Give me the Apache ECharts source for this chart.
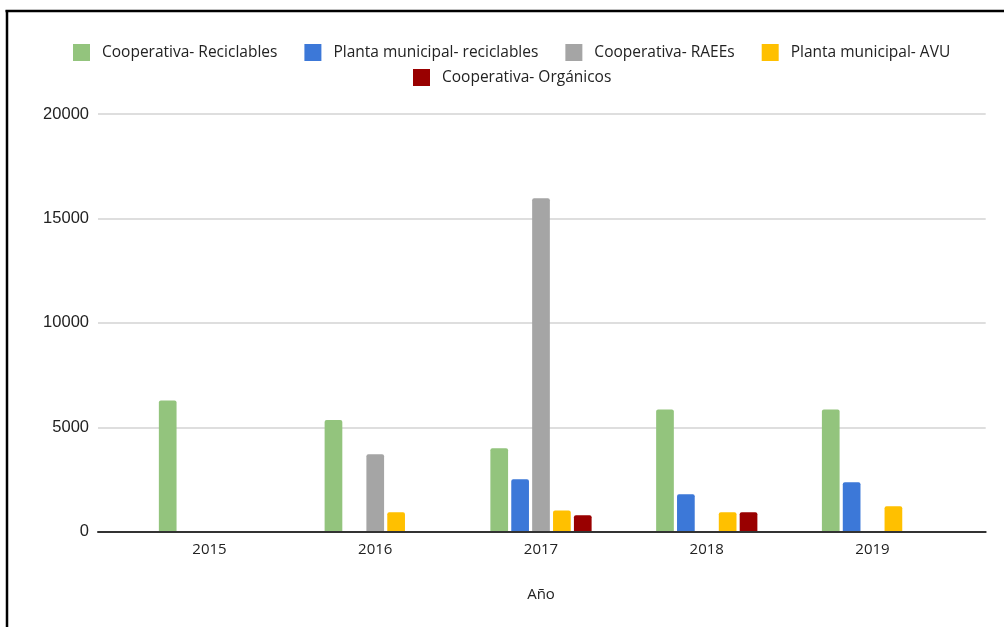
<!DOCTYPE html>
<html>
<head>
<meta charset="utf-8">
<script src="https://cdn.jsdelivr.net/npm/echarts@6/dist/echarts.min.js"></script>
<style>
  html, body { margin: 0; padding: 0; background: #ffffff; }
  #chart { width: 1004px; height: 627px; }
</style>
</head>
<body>
<div id="chart"></div>
<script>
// Years on the category axis
const years = ['2015', '2016', '2017', '2018', '2019'];

// Tonnage per stream and year (null = no data that year)
const coopReciclables = [6280, 5350, 4000, 5850, 5850];
const plantaReciclables = [null, null, 2510, 1790, 2370];
const coopRAEEs = [null, 3710, 15970, null, null];
const plantaAVU = [null, 930, 1010, 930, 1220];
const coopOrganicos = [null, null, 790, 930, null];

// Value-axis ticks
const yTicks = [0, 5000, 10000, 15000, 20000];

const seriesNames = [
  'Cooperativa- Reciclables',
  'Planta municipal- reciclables',
  'Cooperativa- RAEEs',
  'Planta municipal- AVU',
  'Cooperativa- Orgánicos'
];
const seriesData = [coopReciclables, plantaReciclables, coopRAEEs, plantaAVU, coopOrganicos];
const colors = ['#93c47d', '#3c78d8', '#a5a5a5', '#ffc000', '#990000'];

const chart = echarts.init(document.getElementById('chart'), null, { renderer: 'canvas' });

const legendText = {
  fontFamily: 'Open Sans',
  fontSize: 15.5,
  color: '#222222',
  padding: [0, 0, 0, 7]
};

const option = {
  animation: false,
  backgroundColor: '#ffffff',
  color: colors,
  legend: [
    {
      data: seriesNames.slice(0, 4),
      left: 73,
      top: 44,
      padding: 0,
      itemWidth: 17,
      itemHeight: 17,
      itemGap: 27,
      icon: 'rect',
      textStyle: legendText
    },
    {
      data: seriesNames.slice(4),
      left: 413,
      top: 69,
      padding: 0,
      itemWidth: 17,
      itemHeight: 17,
      icon: 'rect',
      textStyle: legendText
    }
  ],
  grid: [
    // frame for the value axis, gridlines and baseline
    { left: 98, right: 18.3, top: 114, bottom: 95.3, containLabel: false },
    // inner band holding the year groups
    { left: 126.6, right: 48.6, top: 114, bottom: 95.3, containLabel: false }
  ],
  xAxis: [
    {
      gridIndex: 0,
      type: 'value',
      min: 0,
      max: 1,
      z: 5,
      axisLine: { show: true, lineStyle: { color: '#333333', width: 2 } },
      axisTick: { show: false },
      axisLabel: { show: false },
      splitLine: { show: false }
    },
    {
      gridIndex: 1,
      type: 'category',
      data: years,
      axisLine: { show: false },
      axisTick: { show: false },
      axisLabel: {
        margin: 11,
        fontFamily: 'Open Sans',
        fontSize: 15,
        color: '#222222'
      },
      name: 'Año',
      nameLocation: 'middle',
      nameGap: 56,
      nameTextStyle: { fontFamily: 'Open Sans', fontSize: 15, color: '#222222' }
    }
  ],
  yAxis: [
    {
      gridIndex: 0,
      type: 'value',
      min: yTicks[0],
      max: yTicks[yTicks.length - 1],
      interval: yTicks[1] - yTicks[0],
      axisLine: { show: false },
      axisTick: { show: false },
      axisLabel: {
        margin: 9,
        fontFamily: 'Liberation Sans, Arial',
        fontSize: 16.5,
        color: '#222222',
        formatter: (v) => String(v)
      },
      splitLine: { show: true, lineStyle: { color: '#d3d3d3', width: 1.5 } }
    },
    {
      gridIndex: 1,
      type: 'value',
      min: yTicks[0],
      max: yTicks[yTicks.length - 1],
      interval: yTicks[1] - yTicks[0],
      show: false,
      splitLine: { show: false }
    }
  ],
  series: seriesNames.map((name, i) => ({
    name: name,
    type: 'bar',
    xAxisIndex: 1,
    yAxisIndex: 1,
    data: seriesData[i],
    barWidth: 17.7,
    barGap: '18%',
    itemStyle: { color: colors[i], borderRadius: [2, 2, 0, 0] }
  })),
  graphic: [
    // top and left border of the chart frame
    { type: 'line', shape: { x1: 5.5, y1: 11, x2: 1004, y2: 11 }, style: { stroke: '#000000', lineWidth: 2.5 } },
    { type: 'line', shape: { x1: 7, y1: 10, x2: 7, y2: 627 }, style: { stroke: '#000000', lineWidth: 2.5 } }
  ]
};

chart.setOption(option);
</script>
</body>
</html>
